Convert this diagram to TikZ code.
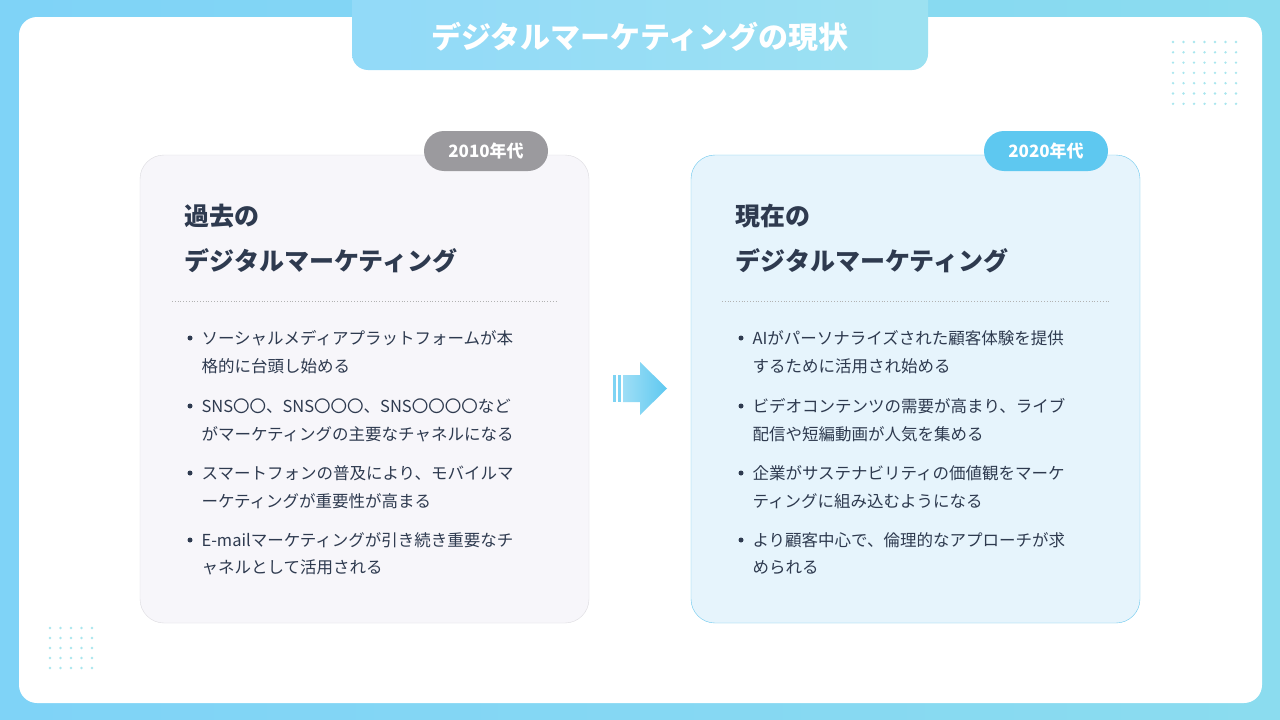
\documentclass[tikz,border=0pt]{standalone}
\usepackage{fontspec}
\setmainfont{Noto Sans CJK JP}
\usetikzlibrary{shapes.geometric}
\definecolor{bgA}{HTML}{7FD3F7}
\definecolor{bgB}{HTML}{8BDCEF}
\definecolor{txt}{HTML}{2E3A4F}
\definecolor{lcard}{HTML}{F7F6FA}
\definecolor{lbord}{HTML}{DCDBE0}
\definecolor{rcard}{HTML}{E6F4FC}
\definecolor{rbord}{HTML}{6CC8EE}
\definecolor{gbadge}{HTML}{9B9A9E}
\definecolor{bbadge}{HTML}{5EC8F0}
\definecolor{dotc}{HTML}{A8E6EE}
\tikzset{
  heading/.style={anchor=west,font=\fontsize{25}{30}\selectfont\bfseries,text=txt},
  item/.style={anchor=west,font=\fontsize{16.5}{20}\selectfont,text=txt},
  bul/.style={circle,fill=txt,inner sep=0pt,minimum size=5pt},
  badge/.style={rounded corners=20pt,inner sep=0pt,minimum width=124pt,minimum height=40pt,text=white,font=\fontsize{17}{20}\selectfont\bfseries},
}
\begin{document}
\begin{tikzpicture}[x=1pt,y=-1pt]
\useasboundingbox (0,0) rectangle (1280,720);
\shade[left color=bgA,right color=bgB] (0,0) rectangle (1280,720);
\fill[white,rounded corners=18pt] (19,17) rectangle (1262,703);
% title tab
\shade[left color=bgA!85!white,right color=bgB!85!white,rounded corners=16pt] (352,-30) rectangle (928,70);
\node (title) at (640,37) {\color{white}\fontsize{30}{34}\selectfont\bfseries デジタルマーケティングの現状};
% dots
\foreach \i in {0,...,6} \foreach \j in {0,...,6}
  \fill[dotc] (1173+\i*10.5,42+\j*10.3) circle (1.3pt);
\foreach \i in {0,...,4} \foreach \j in {0,...,4}
  \fill[dotc] (50+\i*10.5,628+\j*10) circle (1.3pt);
% left card
\draw[lbord,fill=lcard,rounded corners=24pt] (140,155) rectangle (589,623);
\node[badge,fill=gbadge] (lb) at (486,151) {2010年代};
\node[heading] (lh1) at (181,216) {過去の};
\node[heading] (lh2) at (181,261) {デジタルマーケティング};
\draw[gray!60,dotted,line width=0.8pt] (172,301) -- (558,301);
\foreach \y/\t in {338/ソーシャルメディアプラットフォームが本, 366/格的に台頭し始める, 406/SNS〇〇、SNS〇〇〇、SNS〇〇〇〇など, 434/がマーケティングの主要なチャネルになる, 473/スマートフォンの普及により、モバイルマ, 501/ーケティングが重要性が高まる, 540/E-mailマーケティングが引き続き重要なチ, 567/ャネルとして活用される}
  \node[item] at (198,\y) {\t};
\foreach \y in {338,406,473,540} \node[bul] at (190,\y) {};
% right card
\draw[rbord,fill=rcard,rounded corners=24pt] (691,155) rectangle (1140,623);
\node[badge,fill=bbadge] (rb) at (1046,151) {2020年代};
\node[heading] (rh1) at (732,216) {現在の};
\node[heading] (rh2) at (732,261) {デジタルマーケティング};
\draw[gray!60,dotted,line width=0.8pt] (722,301) -- (1110,301);
\foreach \y/\t in {338/AIがパーソナライズされた顧客体験を提供, 366/するために活用され始める, 406/ビデオコンテンツの需要が高まり、ライブ, 434/配信や短編動画が人気を集める, 473/企業がサステナビリティの価値観をマーケ, 501/ティングに組み込むようになる, 540/より顧客中心で、倫理的なアプローチが求, 567/められる}
  \node[item] at (749,\y) {\t};
\foreach \y in {338,406,473,540} \node[bul] at (741,\y) {};
% arrow
\fill[bbadge!80] (613,375) rectangle (616,402);
\fill[bbadge!80] (618,375) rectangle (621,402);
\shade[left color=bbadge!60!white,right color=bbadge] (623,375) -- (640,375) -- (640,362) -- (667,388.5) -- (640,415) -- (640,402) -- (623,402) -- cycle;
\end{tikzpicture}
\end{document}
